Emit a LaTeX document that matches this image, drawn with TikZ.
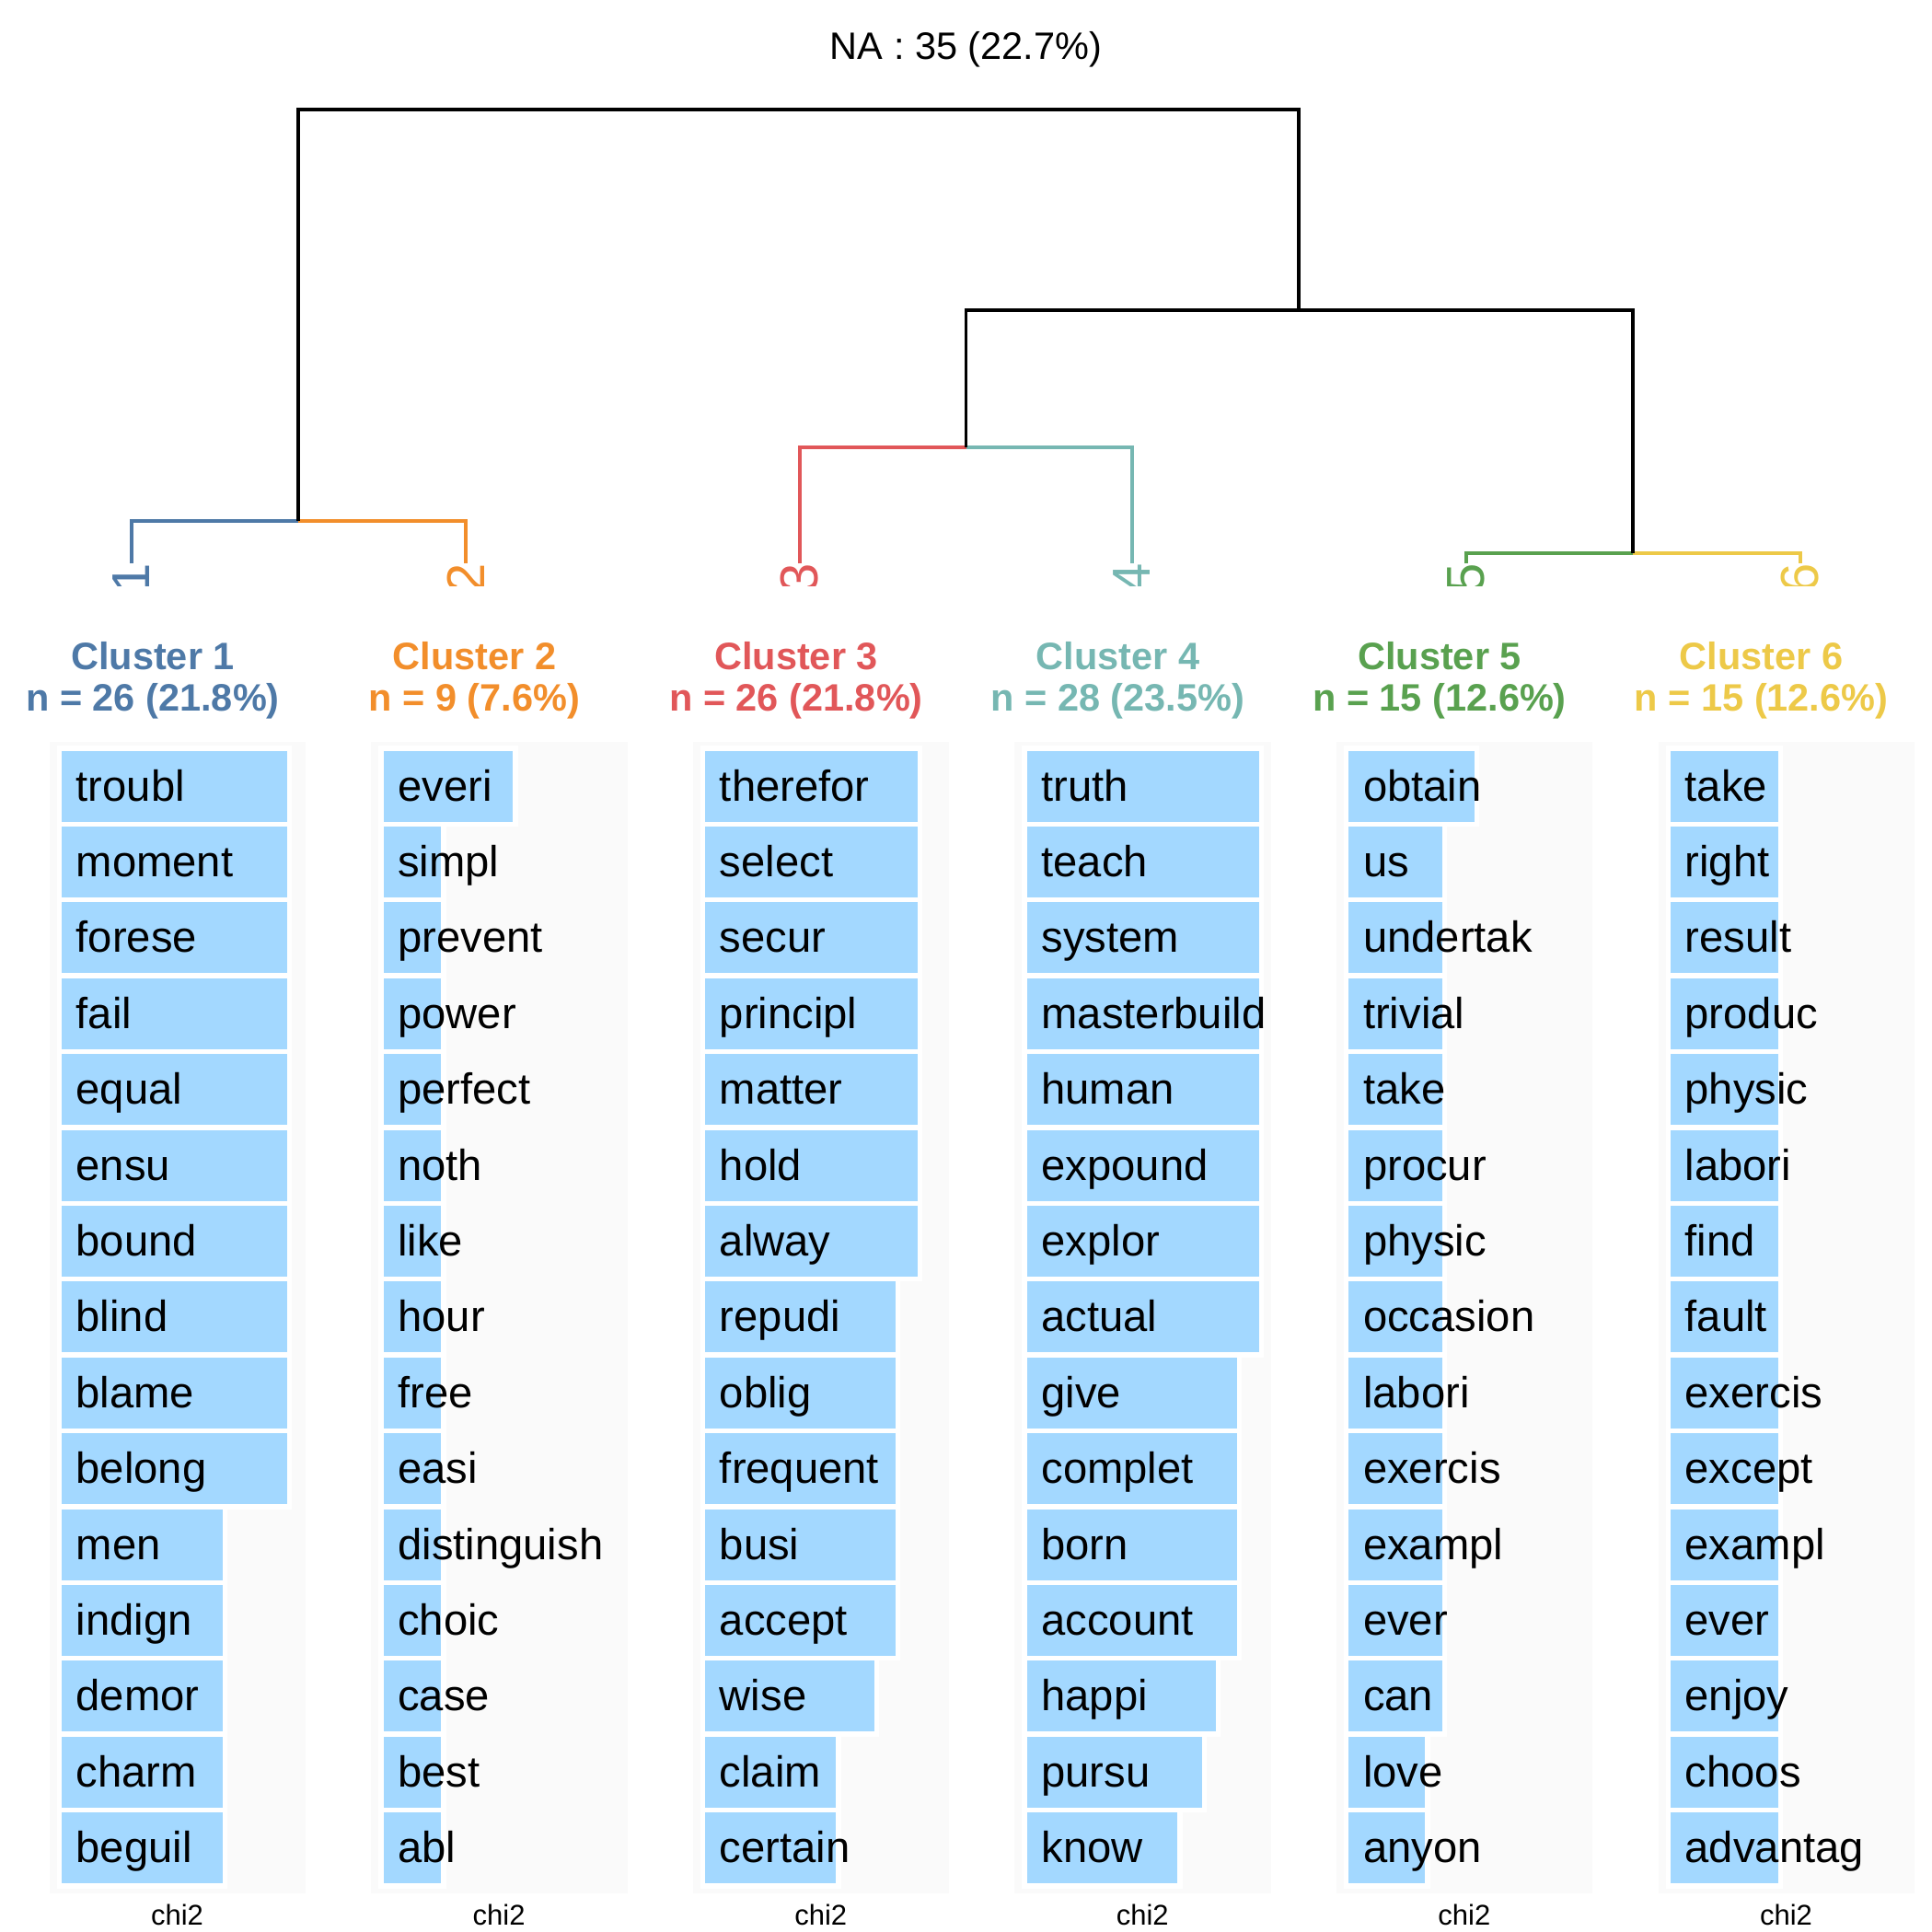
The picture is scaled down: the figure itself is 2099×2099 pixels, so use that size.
\documentclass[tikz,border=0pt]{standalone}
\usepackage{fontspec}
\setmainfont{Liberation Sans}
\usetikzlibrary{positioning}

\definecolor{clone}{HTML}{4E79A7}
\definecolor{cltwo}{HTML}{F28E2B}
\definecolor{clthree}{HTML}{E15759}
\definecolor{clfour}{HTML}{76B7B2}
\definecolor{clfive}{HTML}{59A14F}
\definecolor{clsix}{HTML}{EDC948}
\definecolor{barblue}{HTML}{A3D8FF}
\definecolor{panelgray}{HTML}{FAFAFA}

\tikzset{
  branch/.style={line width=3.8pt},
  panelbg/.style={fill=panelgray},
  chibar/.style={fill=barblue, draw=white, line width=5.4pt},
  word/.style={anchor=base west, inner sep=0, font=\fontsize{47.2}{47.2}\selectfont},
  head/.style={anchor=base, inner sep=0, font=\fontsize{41.5}{41.5}\selectfont\bfseries},
  leaflab/.style={rotate=90, anchor=east, inner sep=0, font=\fontsize{58}{58}\selectfont},
  axislab/.style={anchor=base, inner sep=0, font=\fontsize{31}{31}\selectfont}
}

\begin{document}
\begin{tikzpicture}[x=1pt, y=-1pt]
\useasboundingbox (0,0) rectangle (2099,2099);
\node[anchor=base, inner sep=0, font=\fontsize{41.5}{41.5}\selectfont] (natitle) at (1049.5,64) {NA : 35 (22.7\%)};

% Dendrogram:
\coordinate (l1) at (143,612);
\coordinate (l2) at (506,612);
\coordinate (l3) at (869,612);
\coordinate (l4) at (1230,612);
\coordinate (l5) at (1593,612);
\coordinate (l6) at (1956,612);
\coordinate (m12) at (324,566);
\coordinate (m34) at (1049.5,486);
\coordinate (m56) at (1774,601);
\coordinate (m3456) at (1411,337);
\coordinate (root) at (867.5,119);
\draw[branch, clone] (l1) |- (m12);
\draw[branch, cltwo] (l2) |- (m12);
\draw[branch, clthree] (l3) |- (m34);
\draw[branch, clfour] (l4) |- (m34);
\draw[branch, clfive] (l5) |- (m56);
\draw[branch, clsix] (l6) |- (m56);
\draw[branch] (m34) |- (m3456);
\draw[branch] (m56) |- (m3456);
\draw[branch] (m12) |- (root);
\draw[branch] (m3456) |- (root);
\begin{scope}
\clip (0,0) rectangle (2099,636);
\node[leaflab, clone] (d1) at (l1) {1};
\node[leaflab, cltwo] (d2) at (l2) {2};
\node[leaflab, clthree] (d3) at (l3) {3};
\node[leaflab, clfour] (d4) at (l4) {4};
\node[leaflab, clfive] (d5) at (l5) {5};
\node[leaflab, clsix] (d6) at (l6) {6};
\end{scope}

% Cluster headers:
\node[head, clone] (h1) at (166,727) {Cluster 1};
\node[head, clone] (n1) at (166,772) {n = 26 (21.8\%)};
\node[head, cltwo] (h2) at (515.5,727) {Cluster 2};
\node[head, cltwo] (n2) at (515.5,772) {n = 9 (7.6\%)};
\node[head, clthree] (h3) at (865,727) {Cluster 3};
\node[head, clthree] (n3) at (865,772) {n = 26 (21.8\%)};
\node[head, clfour] (h4) at (1214.5,727) {Cluster 4};
\node[head, clfour] (n4) at (1214.5,772) {n = 28 (23.5\%)};
\node[head, clfive] (h5) at (1564,727) {Cluster 5};
\node[head, clfive] (n5) at (1564,772) {n = 15 (12.6\%)};
\node[head, clsix] (h6) at (1913.5,727) {Cluster 6};
\node[head, clsix] (n6) at (1913.5,772) {n = 15 (12.6\%)};

% Bar panels:
\begin{scope}
\fill[panelbg] (53.5,806) rectangle (332,2057);
\foreach \w/\l [count=\i from 0] in {troubl/245, moment/245, forese/245, fail/245, equal/245, ensu/245, bound/245, blind/245, blame/245, belong/245, men/175, indign/175, demor/175, charm/175, beguil/175} {
  \draw[chibar] (64.3,812.8+\i*82.4) rectangle ++(\l+5.4,82.4);
  \node[word] (w1-\i) at (82.5,870+\i*82.4) {\w};
}
\node[axislab] (ax1) at (192.5,2091) {chi2};
\end{scope}
\begin{scope}[xshift=349.6pt]
\fill[panelbg] (53.5,806) rectangle (332,2057);
\foreach \w/\l [count=\i from 0] in {everi/140.6, simpl/62.6, prevent/62.6, power/62.6, perfect/62.6, noth/62.6, like/62.6, hour/62.6, free/62.6, easi/62.6, distinguish/62.6, choic/62.6, case/62.6, best/62.6, abl/62.6} {
  \draw[chibar] (64.3,812.8+\i*82.4) rectangle ++(\l+5.4,82.4);
  \node[word] (w2-\i) at (82.5,870+\i*82.4) {\w};
}
\node[axislab] (ax2) at (192.5,2091) {chi2};
\end{scope}
\begin{scope}[xshift=699.2pt]
\fill[panelbg] (53.5,806) rectangle (332,2057);
\foreach \w/\l [count=\i from 0] in {therefor/230.3, select/230.3, secur/230.3, principl/230.3, matter/230.3, hold/230.3, alway/230.3, repudi/206.3, oblig/206.3, frequent/206.3, busi/206.3, accept/206.3, wise/183.3, claim/141.9, certain/141.9} {
  \draw[chibar] (64.3,812.8+\i*82.4) rectangle ++(\l+5.4,82.4);
  \node[word] (w3-\i) at (82.5,870+\i*82.4) {\w};
}
\node[axislab] (ax3) at (192.5,2091) {chi2};
\end{scope}
\begin{scope}[xshift=1048.8pt]
\fill[panelbg] (53.5,806) rectangle (332,2057);
\foreach \w/\l [count=\i from 0] in {truth/251.8, teach/251.8, system/251.8, masterbuild/251.8, human/251.8, expound/251.8, explor/251.8, actual/251.8, give/227.7, complet/227.7, born/227.7, account/227.7, happi/205, pursu/190, know/163.4} {
  \draw[chibar] (64.3,812.8+\i*82.4) rectangle ++(\l+5.4,82.4);
  \node[word] (w4-\i) at (82.5,870+\i*82.4) {\w};
}
\node[axislab] (ax4) at (192.5,2091) {chi2};
\end{scope}
\begin{scope}[xshift=1398.4pt]
\fill[panelbg] (53.5,806) rectangle (332,2057);
\foreach \w/\l [count=\i from 0] in {obtain/136.4, us/101.6, undertak/101.6, trivial/101.6, take/101.6, procur/101.6, physic/101.6, occasion/101.6, labori/101.6, exercis/101.6, exampl/101.6, ever/101.6, can/101.6, love/83, anyon/83} {
  \draw[chibar] (64.3,812.8+\i*82.4) rectangle ++(\l+5.4,82.4);
  \node[word] (w5-\i) at (82.5,870+\i*82.4) {\w};
}
\node[axislab] (ax5) at (192.5,2091) {chi2};
\end{scope}
\begin{scope}[xshift=1748pt]
\fill[panelbg] (53.5,806) rectangle (332,2057);
\foreach \w/\l [count=\i from 0] in {take/116.7, right/116.7, result/116.7, produc/116.7, physic/116.7, labori/116.7, find/116.7, fault/116.7, exercis/116.7, except/116.7, exampl/116.7, ever/116.7, enjoy/116.7, choos/116.7, advantag/116.7} {
  \draw[chibar] (64.3,812.8+\i*82.4) rectangle ++(\l+5.4,82.4);
  \node[word] (w6-\i) at (82.5,870+\i*82.4) {\w};
}
\node[axislab] (ax6) at (192.5,2091) {chi2};
\end{scope}
\end{tikzpicture}
\end{document}
